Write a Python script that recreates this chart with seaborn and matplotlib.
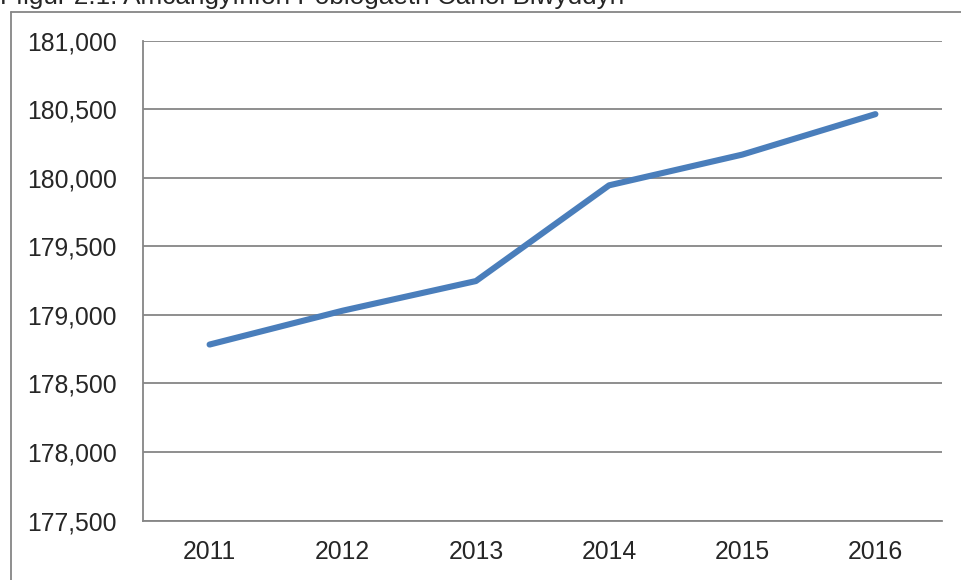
import matplotlib
matplotlib.use("Agg")
import matplotlib.pyplot as plt
import matplotlib.ticker as mticker
from matplotlib.lines import Line2D
import seaborn as sns
import pandas as pd

# data
years = ["2011", "2012", "2013", "2014", "2015", "2016"]
population = [178783, 179030, 179246, 179944, 180168, 180463]
title = "Ffigur 2.1: Amcangyfrifon Poblogaeth Canol Blwyddyn"

df = pd.DataFrame({"pos": range(len(years)), "year": years, "pop": population})

sns.set_style("white")
plt.rcParams["font.family"] = ["Liberation Sans", "DejaVu Sans"]

grey = "#868686"
W, H = 962, 580
fig = plt.figure(figsize=(W / 100, H / 100), dpi=100)
ax = fig.add_axes([143 / W, 1 - 520.5 / H, (942 - 143) / W, (520.5 - 40.5) / H])

sns.lineplot(data=df, x="pos", y="pop", ax=ax, color="#4a7ebb", linewidth=4.4,
             solid_capstyle="round", solid_joinstyle="round")

ax.set_xlim(-0.5, len(years) - 0.5)
ax.set_ylim(177500, 181000)
ax.yaxis.set_major_locator(mticker.MultipleLocator(500))
ax.yaxis.set_major_formatter(mticker.FuncFormatter(lambda v, p: f"{int(v):,}"))
ax.grid(axis="y", color=grey, linewidth=1.3)
ax.set_axisbelow(True)

# category boundaries get tick marks, labels sit in the middle
ax.set_xticks([i - 0.5 for i in range(len(years) + 1)])
ax.set_xticklabels([])
ax.set_xticks(range(len(years)), minor=True)
ax.set_xticklabels(years, minor=True)
ax.tick_params(axis="x", which="major", length=6.5, width=1.3, color=grey, direction="out")
ax.tick_params(axis="x", which="minor", length=0, pad=14, labelsize=17.8)
ax.tick_params(axis="y", length=6.5, width=1.3, color=grey, direction="out", pad=12.5, labelsize=17.8)
ax.set_xlabel("")
ax.set_ylabel("")

for s in ["top", "right"]:
    ax.spines[s].set_visible(False)
for s in ["left", "bottom"]:
    ax.spines[s].set_color(grey)
    ax.spines[s].set_linewidth(1.3)

# outer chart frame, cut off by the image edge
fig.add_artist(Line2D([11 / W, 11 / W], [0, 1 - 11.5 / H], color=grey, linewidth=1.3,
                      transform=fig.transFigure))
fig.add_artist(Line2D([11 / W, 1], [1 - 11.5 / H, 1 - 11.5 / H], color=grey, linewidth=1.3,
                      transform=fig.transFigure))

fig.text(0 / W, 1 - 4 / H, title, fontsize=18.8, ha="left", va="baseline")

fig.savefig("out.png", dpi=100)
